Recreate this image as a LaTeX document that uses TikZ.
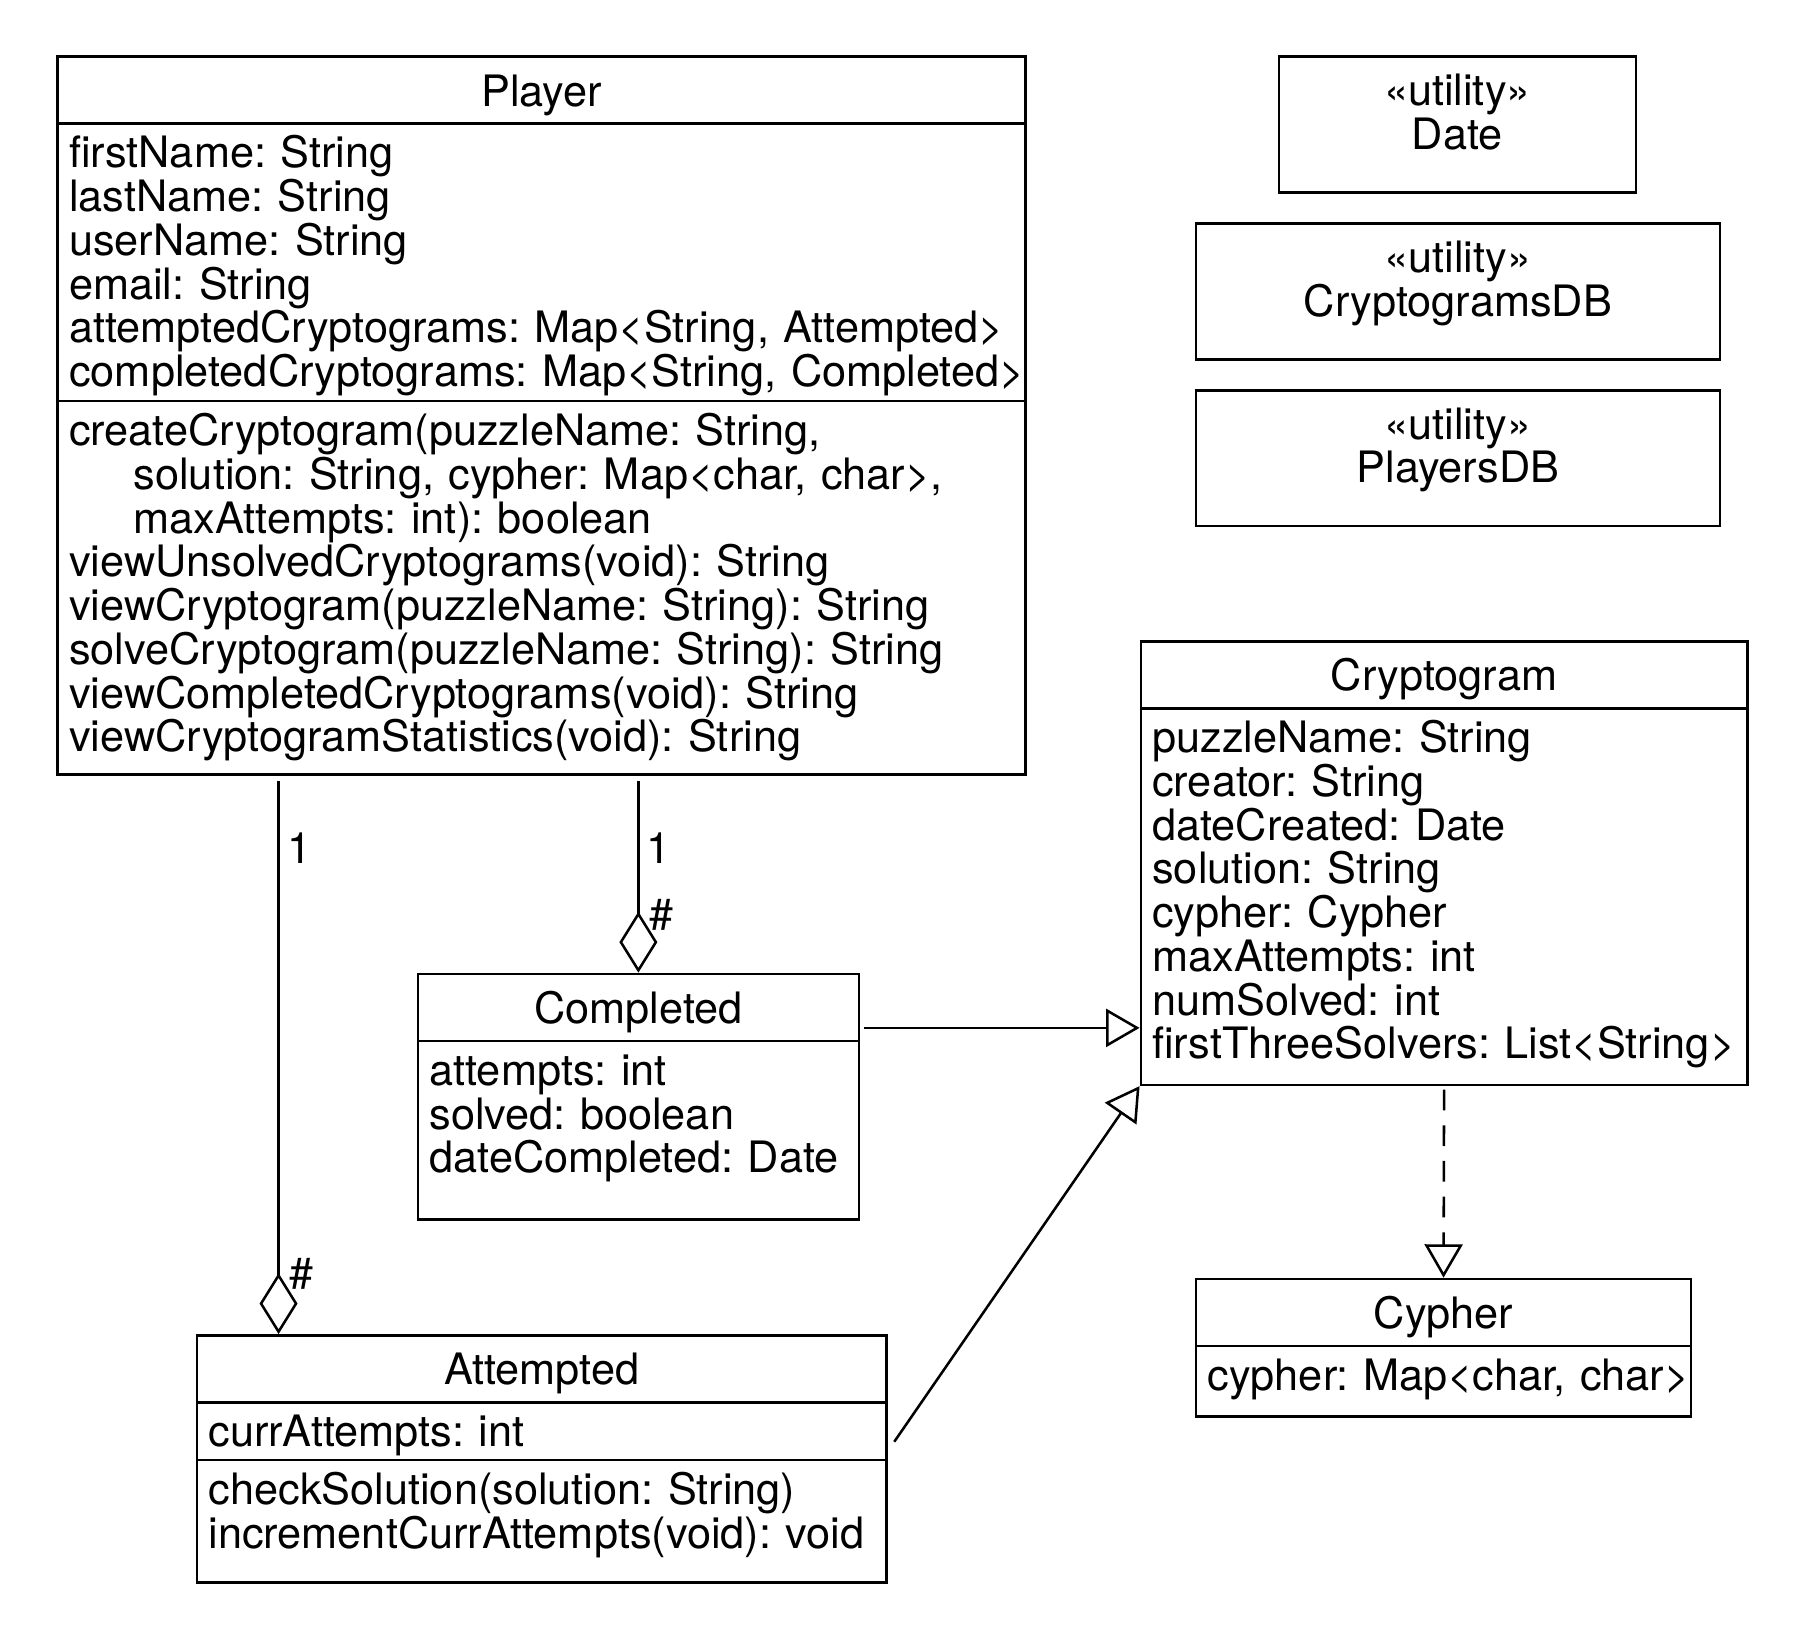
\documentclass[tikz,border=0pt]{standalone}
\usepackage{fontspec}
\setmainfont{TeX Gyre Heros}
\usetikzlibrary{shapes.multipart,arrows.meta}

\newcommand{\ustrut}{\rule[-4.75pt]{0pt}{19pt}}
\newcommand{\ctitle}[1]{\hbox to\hsize{\hss\ustrut\smash{\raisebox{-2.25pt}{#1}}\hss}}

\tikzset{
  umlclass/.style={rectangle split, rectangle split parts=#1, draw, line width=1.1pt,
    inner xsep=5pt, inner ysep=4.5pt, align=left, anchor=north west},
  stereo/.style={draw, line width=1.1pt, align=center, anchor=north west,
    minimum height=59pt, inner xsep=5pt},
  mult/.style={inner sep=0pt, anchor=west},
  aggr/.style={line width=1.1pt, shorten <=2.5pt,
    -{Diamond[open,length=26.5pt,width=16.5pt]}},
  gen/.style={line width=1.1pt, shorten <=1.5pt,
    -{Triangle[open,length=14.5pt,width=16.5pt]}},
  real/.style={gen, dash pattern=on 9pt off 6.5pt}
}

\begin{document}
\begin{tikzpicture}[x=0.5pt, y=-0.5pt, font=\fontsize{18.8pt}{19pt}\selectfont\frenchspacing]

      \useasboundingbox (0,0) rectangle (1569,1424);

      % classes
      \node[umlclass=3, text width=410.5pt] (player) at (49,48) {\ctitle{Player}
        \nodepart{two}\ustrut firstName: String\\
        lastName: String\\
        userName: String\\
        email: String\\
        \mbox{attemptedCryptograms: Map<String, Attempted>}\\
        \mbox{completedCryptograms: Map<String, Completed>}\ustrut\par\kern-3.5pt
        \nodepart{three}\ustrut createCryptogram(puzzleName: String,\\
        \hspace*{28pt}solution: String, cypher: Map<char, char>,\\
        \hspace*{28pt}maxAttempts: int): boolean\\
        viewUnsolvedCryptograms(void): String\\
        viewCryptogram(puzzleName: String): String\\
        solveCryptogram(puzzleName: String): String\\
        viewCompletedCryptograms(void): String\\
        viewCryptogramStatistics(void): String\ustrut};

      \node[umlclass=2, text width=253.5pt] (crypto) at (990,556) {\ctitle{Cryptogram}
        \nodepart{two}\ustrut puzzleName: String\\
        creator: String\\
        dateCreated: Date\\
        solution: String\\
        cypher: Cypher\\
        maxAttempts: int\\
        numSolved: int\\
        \mbox{firstThreeSolvers: List<String>}\ustrut\par\kern1.5pt};

      \node[umlclass=2, text width=181.5pt] (completed) at (362,845) {\ctitle{Completed}
        \nodepart{two}\ustrut attempts: int\\
        solved: boolean\\
        dateCompleted: Date\ustrut\par\kern10.5pt};

      \node[umlclass=3, text width=289.5pt] (attempted) at (170,1159) {\ctitle{Attempted}
        \nodepart{two}\ustrut currAttempts: int\ustrut\par\kern-4pt
        \nodepart{three}\ustrut checkSolution(solution: String)\\
        incrementCurrAttempts(void): void\ustrut\par\kern5pt};

      \node[umlclass=2, text width=205pt] (cypher) at (1038,1110) {\ctitle{Cypher}
        \nodepart{two}\ustrut\mbox{cypher: Map<char, char>}\ustrut\par\kern1.5pt};

      % utilities
      \node[stereo, text width=145pt] (date) at (1110,48)
        {\ustrut«utility»\\Date\ustrut\par\kern7pt};
      \node[stereo, text width=217.5pt] (cryptodb) at (1038,193)
        {\ustrut«utility»\\CryptogramsDB\ustrut\par\kern7pt};
      \node[stereo, text width=217.5pt] (playersdb) at (1038,338)
        {\ustrut«utility»\\PlayersDB\ustrut\par\kern7pt};

      % aggregations
      \coordinate (pa) at ([xshift=96.5pt]player.south west);
      \coordinate (pa2) at (pa |- attempted.north);
      \coordinate (pc) at (completed.north |- player.south);

      \draw[aggr] (pa) -- (pa2);
      \draw[aggr] (pc) -- (completed.north);

      \node[mult] (m1) at ([xshift=3.5pt,yshift=-31.5pt]pa) {1};
      \node[mult] (m2) at ([xshift=3.5pt,yshift=-31.5pt]pc) {1};
      \node[mult] (h1) at ([xshift=4.5pt,yshift=26pt]pa2) {\#};
      \node[mult] (h2) at ([xshift=4.5pt,yshift=25pt]completed.north) {\#};

      % generalizations
      \coordinate (cg) at ([yshift=-24pt]completed.north east);
      \coordinate (ag) at ([xshift=2pt,yshift=-48pt]attempted.north east);

      \draw[gen] (cg) -- (cg -| crypto.west);
      \draw[gen] (ag) -- (crypto.south west);
      \draw[real] (crypto.south) -- (cypher.north);

    \end{tikzpicture}
\end{document}
